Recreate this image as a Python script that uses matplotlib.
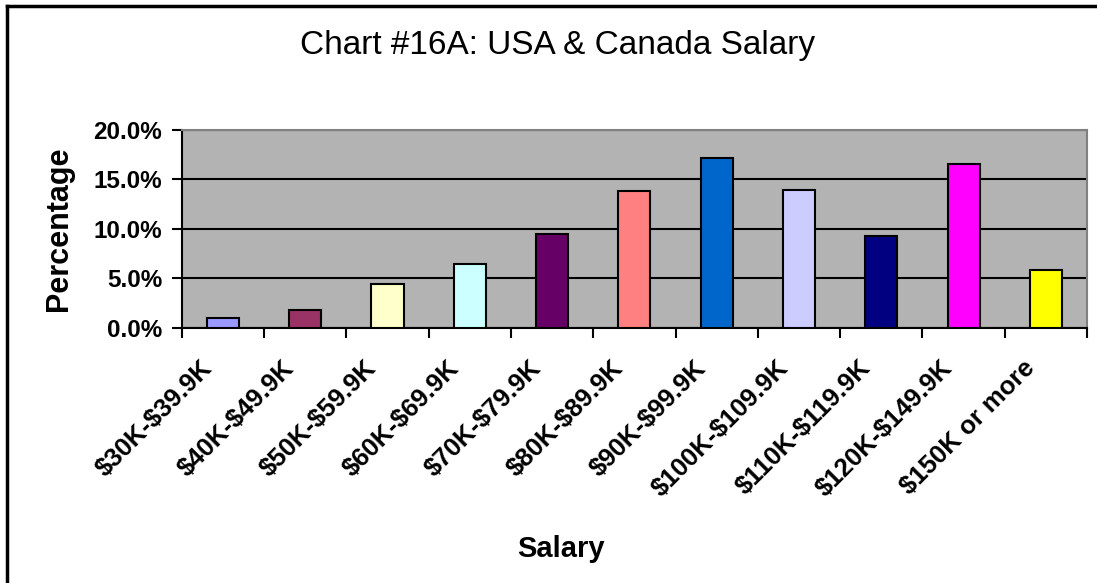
import matplotlib.pyplot as plt
from matplotlib.lines import Line2D
from matplotlib.transforms import ScaledTranslation
import numpy as np

plt.rcParams['font.family'] = ['Liberation Sans', 'DejaVu Sans']

# Salary bands and share of respondents (%)
categories = ['\\$30K-\\$39.9K', '\\$40K-\\$49.9K', '\\$50K-\\$59.9K', '\\$60K-\\$69.9K',
              '\\$70K-\\$79.9K', '\\$80K-\\$89.9K', '\\$90K-\\$99.9K', '\\$100K-\\$109.9K',
              '\\$110K-\\$119.9K', '\\$120K-\\$149.9K', '\\$150K or more']
percent = [1.0, 1.8, 4.45, 6.45, 9.5, 13.8, 17.2, 13.9, 9.3, 16.6, 5.85]
colors = ['#9999FF', '#993366', '#FFFFCC', '#CCFFFF', '#660066', '#FF8080',
          '#0066CC', '#CCCCFF', '#000080', '#FF00FF', '#FFFF00']

fig = plt.figure(figsize=(10.97, 5.83), dpi=100)
ax = fig.add_axes([0.1656, 0.438, 0.8254, 0.339])
ax.set_facecolor('#B3B3B3')

x = np.arange(len(categories))
ax.bar(x, percent, width=0.39, color=colors, edgecolor='black', linewidth=1.5, zorder=3)

ax.set_xlim(-0.5, len(categories) - 0.5)
ax.set_ylim(0, 20)
ax.set_yticks(np.arange(0, 20.1, 5))
ax.set_yticklabels([f'{v:.1f}%' for v in np.arange(0, 20.1, 5)],
                   fontsize=17.5, fontweight='bold')
ax.yaxis.grid(True, color='black', linewidth=1.5, zorder=1)
ax.set_axisbelow(True)

# category ticks sit on the boundaries, labels at centres
ax.set_xticks(np.arange(-0.5, len(categories)), minor=False)
ax.set_xticklabels([])
ax.set_xticks(x, minor=True)
ax.set_xticklabels(categories, minor=True, rotation=45, ha='right', va='top',
                   rotation_mode='anchor', fontsize=18.5, fontweight='bold')
ax.tick_params(axis='x', which='minor', length=0, pad=16)
ax.tick_params(axis='x', which='major', direction='out', length=7, width=1.5)
ax.tick_params(axis='y', direction='out', length=7, width=1.5, pad=7)
shift = ScaledTranslation(-23 / 100, -6 / 100, fig.dpi_scale_trans)
for lbl in ax.get_xticklabels(minor=True):
    lbl.set_transform(lbl.get_transform() + shift)

for side in ['left', 'bottom']:
    ax.spines[side].set_linewidth(1.5)
    ax.spines[side].set_color('black')
for side in ['top', 'right']:
    ax.spines[side].set_linewidth(1.5)
    ax.spines[side].set_color('#808080')

ax.set_ylabel('Percentage', fontsize=22, fontweight='bold', labelpad=14)
fig.text(0.511, 0.058, 'Salary', ha='center', va='center', fontsize=21, fontweight='bold')
fig.text(0.508, 0.922, 'Chart #16A: USA & Canada Salary', ha='center', va='center', fontsize=24)

# outer chart frame (runs off the right and bottom edges)
fig.add_artist(Line2D([0.0068, 1.0], [0.9897, 0.9897], color='black', linewidth=2.5,
                      transform=fig.transFigure))
fig.add_artist(Line2D([0.0068, 0.0068], [0.0, 0.9897], color='black', linewidth=2.5,
                      transform=fig.transFigure))

fig.savefig('out.png', dpi=100)
